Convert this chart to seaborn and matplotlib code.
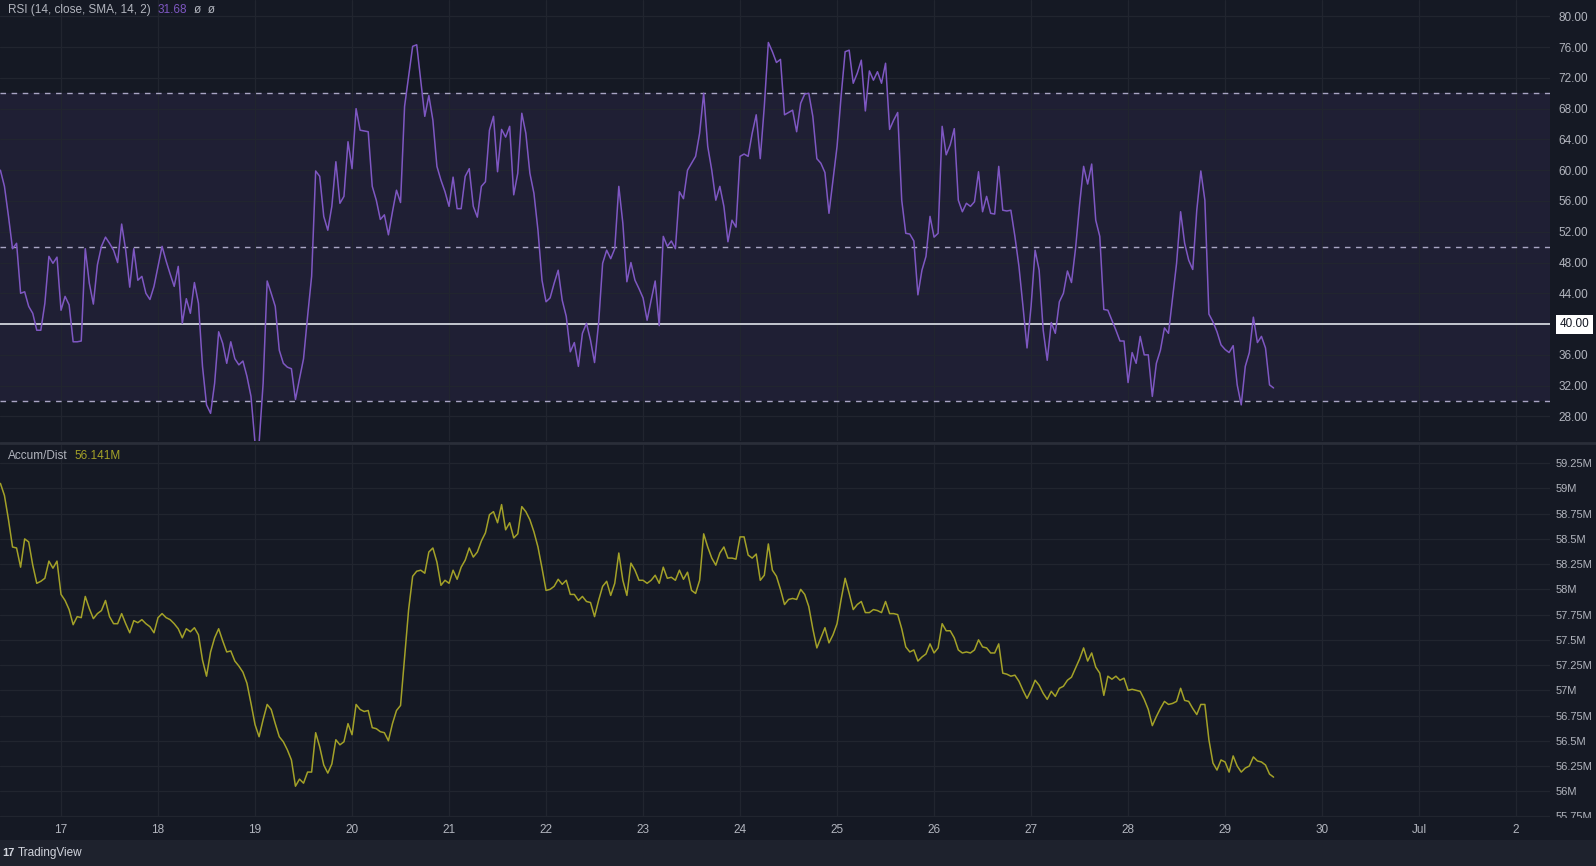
import pandas as pd
import matplotlib
matplotlib.use('Agg')
import matplotlib.pyplot as plt
import matplotlib.dates as mdates
from matplotlib.lines import Line2D
from matplotlib.patches import Rectangle
from matplotlib.transforms import Bbox, TransformedBbox
import seaborn as sns

# hourly RSI(14) readings, 16 Jun 09:00 -> 29 Jun 12:00
rsi = [60.0, 57.9, 54.0, 49.8, 50.5, 44.0, 44.2, 42.3, 41.4, 39.2, 39.2, 42.7,
       48.8, 47.9, 48.7, 41.8, 43.6, 42.5, 37.7, 37.7, 37.8, 49.8,
       45.3, 42.6, 47.7, 50.1, 51.3, 50.5, 49.6, 48.0, 53.0, 49.6,
       44.8, 49.8, 45.7, 46.2, 44.0, 43.2, 44.9, 47.5, 50.1, 48.2,
       46.5, 44.9, 47.5, 40.1, 43.3, 41.4, 45.4, 42.7, 34.5, 29.5,
       28.4, 32.3, 39.0, 37.5, 34.9, 37.7, 35.5, 34.7, 35.2, 33.2,
       30.6, 24.5, 24.5, 32.3, 45.6, 44.0, 42.3, 36.6, 34.9, 34.4,
       34.2, 30.2, 32.9, 35.5, 41.0, 46.2, 59.9, 59.2, 54.0, 52.2,
       55.3, 61.1, 55.7, 56.6, 63.7, 60.2, 68.0, 65.2, 65.1, 65.0,
       57.9, 56.1, 53.6, 54.2, 51.6, 54.6, 57.4, 55.8, 68.3, 72.2,
       76.1, 76.3, 71.7, 67.0, 69.7, 66.5, 60.5, 58.7, 57.2, 55.3,
       59.1, 55.0, 55.0, 59.2, 60.2, 55.3, 53.9, 57.9, 58.5, 65.2,
       67.0, 59.8, 65.3, 64.3, 65.7, 56.8, 59.6, 67.4, 64.8, 59.6,
       57.0, 52.2, 45.7, 42.9, 43.4, 45.3, 47.0, 43.1, 41.0, 36.4,
       37.6, 34.5, 38.8, 40.1, 37.9, 35.0, 40.1, 47.9, 49.6, 48.5,
       49.8, 57.9, 53.1, 45.5, 48.0, 45.7, 44.6, 43.4, 40.5, 43.1,
       45.6, 39.8, 51.4, 50.1, 50.8, 49.8, 57.2, 56.3, 60.0, 60.9,
       61.8, 64.8, 70.0, 63.1, 60.0, 56.1, 57.9, 55.3, 50.7, 53.5,
       52.6, 61.8, 62.1, 61.8, 64.8, 67.2, 61.5, 68.3, 76.6, 75.4,
       74.0, 74.4, 67.2, 67.5, 67.8, 65.0, 68.7, 69.9, 70.0, 67.0,
       61.5, 60.9, 59.7, 54.4, 58.7, 63.1, 69.6, 75.4, 75.6, 71.3,
       72.6, 74.3, 67.7, 72.9, 71.7, 72.8, 71.3, 73.9, 65.3, 66.5,
       67.5, 56.1, 51.8, 51.7, 50.8, 43.8, 47.0, 48.8, 54.0, 51.3,
       51.8, 65.7, 62.0, 63.3, 65.4, 56.1, 54.6, 55.7, 55.3, 55.9,
       59.8, 54.6, 56.6, 54.4, 54.3, 60.5, 54.8, 54.7, 54.8, 51.4,
       47.5, 42.3, 36.9, 42.3, 49.6, 47.0, 39.2, 35.3, 40.2, 38.8,
       42.9, 44.0, 46.9, 45.4, 49.8, 55.5, 60.5, 58.2, 60.8, 53.5,
       51.4, 41.9, 41.8, 40.5, 39.2, 37.8, 37.8, 32.4, 36.3, 34.9,
       38.4, 36.0, 36.0, 30.6, 34.9, 36.6, 39.5, 38.8, 43.3, 47.9,
       54.6, 50.5, 48.3, 47.1, 54.8, 59.9, 56.1, 41.3, 40.3, 39.0,
       37.3, 36.7, 36.3, 37.2, 32.1, 29.5, 34.5, 36.3, 40.9, 37.6,
       38.4, 36.9, 32.1, 31.7]

# hourly accumulation / distribution, millions
accum_dist = [59.05, 58.93, 58.69, 58.42, 58.41, 58.22, 58.50, 58.47, 58.24, 58.06, 58.08, 58.11,
              58.28, 58.21, 58.28, 57.95, 57.89, 57.80, 57.65, 57.73, 57.72, 57.93,
              57.81, 57.71, 57.76, 57.79, 57.89, 57.73, 57.66, 57.66, 57.76, 57.66,
              57.57, 57.69, 57.67, 57.70, 57.66, 57.63, 57.57, 57.72, 57.76, 57.72,
              57.70, 57.66, 57.61, 57.52, 57.61, 57.58, 57.62, 57.55, 57.30, 57.14,
              57.38, 57.52, 57.61, 57.49, 57.38, 57.39, 57.29, 57.24, 57.18, 57.07,
              56.87, 56.66, 56.54, 56.71, 56.86, 56.81, 56.67, 56.54, 56.49, 56.41,
              56.31, 56.05, 56.12, 56.08, 56.19, 56.19, 56.58, 56.44, 56.26, 56.18,
              56.27, 56.51, 56.46, 56.49, 56.67, 56.56, 56.86, 56.81, 56.79, 56.80,
              56.63, 56.62, 56.59, 56.58, 56.50, 56.67, 56.80, 56.85, 57.33, 57.80,
              58.13, 58.18, 58.19, 58.16, 58.37, 58.41, 58.27, 58.04, 58.09, 58.06,
              58.19, 58.10, 58.22, 58.29, 58.41, 58.32, 58.37, 58.48, 58.56, 58.74,
              58.77, 58.66, 58.84, 58.59, 58.66, 58.51, 58.55, 58.82, 58.77, 58.69,
              58.57, 58.42, 58.21, 57.99, 58.00, 58.03, 58.10, 58.05, 58.09, 57.95,
              57.95, 57.89, 57.93, 57.88, 57.87, 57.73, 57.89, 58.03, 58.08, 57.94,
              58.06, 58.36, 58.09, 57.94, 58.26, 58.19, 58.09, 58.09, 58.06, 58.09,
              58.14, 58.06, 58.22, 58.11, 58.12, 58.09, 58.19, 58.10, 58.17, 57.99,
              57.96, 58.09, 58.55, 58.42, 58.31, 58.24, 58.36, 58.42, 58.31, 58.31,
              58.30, 58.52, 58.52, 58.34, 58.31, 58.35, 58.09, 58.14, 58.45, 58.19,
              58.13, 58.00, 57.85, 57.90, 57.91, 57.90, 58.00, 57.95, 57.83, 57.61,
              57.42, 57.52, 57.62, 57.47, 57.55, 57.66, 57.90, 58.11, 57.96, 57.80,
              57.85, 57.88, 57.77, 57.77, 57.80, 57.79, 57.77, 57.88, 57.76, 57.76,
              57.75, 57.61, 57.43, 57.38, 57.40, 57.29, 57.33, 57.36, 57.46, 57.37,
              57.42, 57.66, 57.59, 57.59, 57.52, 57.40, 57.37, 57.38, 57.37, 57.40,
              57.50, 57.43, 57.42, 57.37, 57.37, 57.46, 57.17, 57.16, 57.14, 57.15,
              57.09, 57.00, 56.92, 57.00, 57.10, 57.05, 56.97, 56.91, 56.99, 56.94,
              57.02, 57.04, 57.10, 57.13, 57.22, 57.31, 57.42, 57.29, 57.37, 57.23,
              57.17, 56.95, 57.14, 57.11, 57.14, 57.10, 57.12, 57.00, 57.01, 57.00,
              56.99, 56.91, 56.81, 56.65, 56.74, 56.82, 56.89, 56.86, 56.87, 56.89,
              57.02, 56.90, 56.89, 56.82, 56.76, 56.86, 56.86, 56.51, 56.28, 56.21,
              56.31, 56.29, 56.19, 56.35, 56.25, 56.19, 56.23, 56.25, 56.34, 56.30,
              56.29, 56.26, 56.17, 56.14]

first_bar = '2022-06-16 09:00'
rsi_ticks = [28, 32, 36, 44, 48, 52, 56, 60, 64, 68, 72, 76, 80]
rsi_levels = [70, 50, 30]
rsi_line = 40
ad_ticks = [56.0, 56.25, 56.5, 56.75, 57.0, 57.25, 57.5, 57.75, 58.0, 58.25,
            58.5, 58.75, 59.0, 59.25, 55.75]
rsi_title = 'RSI (14, close, SMA, 14, 2)'
rsi_value = '31.68'
ad_title = 'Accum/Dist'
ad_value = '56.141M'

BG = '#151924'
GRID = '#21252f'
TXT = '#b2b5be'
RSI_C = '#7e57c2'
AD_C = '#a3a128'

sns.set_theme(style='dark')
plt.rcParams['font.family'] = ['Liberation Sans', 'DejaVu Sans']

times = pd.date_range(first_bar, periods=len(rsi), freq='h')
df = pd.DataFrame({'time': times, 'rsi': rsi, 'ad': accum_dist})

fig = plt.figure(figsize=(15.96, 8.66), dpi=100, facecolor=BG)
ax1 = fig.add_axes([0, 0.4908, 0.9712, 0.5092])
ax2 = fig.add_axes([0, 0.0566, 0.9712, 0.4295], sharex=ax1)

# --- RSI pane
ax1.axhspan(30, 70, color=RSI_C, alpha=0.1, lw=0, zorder=0)
sns.lineplot(data=df, x='time', y='rsi', ax=ax1, color=RSI_C, linewidth=1.1, zorder=3)
for lvl in rsi_levels:
    ax1.axhline(lvl, color='#a9a5c4', lw=1, dashes=(4, 4), zorder=2)
ax1.axhline(rsi_line, color='#d1d4dc', lw=1.3, zorder=2)
ax1.set_ylim(24.81, 82.12)
ax1.set_yticks(rsi_ticks)
ax1.yaxis.set_major_formatter(lambda v, p: f'{v:.2f}')
ax1.annotate(f'{rsi_line:.2f}', xy=(1, rsi_line), xycoords=('axes fraction', 'data'),
             xytext=(7, 0), textcoords='offset points', ha='left', va='center',
             fontsize=8.5, color='#131722', annotation_clip=False,
             bbox=dict(boxstyle='square,pad=0.3', fc='#ffffff', ec='none'))

t1 = ax1.text(0.005, 0.991, rsi_title, transform=ax1.transAxes, ha='left', va='top',
              fontsize=8.5, color=TXT)
t2 = ax1.annotate(rsi_value, xy=(1, 0), xycoords=t1, xytext=(5, 0),
                  textcoords='offset points', va='bottom', fontsize=8.5, color=RSI_C)
ax1.annotate('\u00f8  \u00f8', xy=(1, 0), xycoords=t2, xytext=(5, 0),
             textcoords='offset points', va='bottom', fontsize=8.5, color=TXT)

# --- Accumulation / distribution pane
sns.lineplot(data=df, x='time', y='ad', ax=ax2, color=AD_C, linewidth=1.1, zorder=3)
ax2.set_ylim(55.745, 59.43)
ax2.set_yticks(ad_ticks)
ax2.yaxis.set_major_formatter(lambda v, p: f'{v:g}M')
t3 = ax2.text(0.005, 0.986, ad_title, transform=ax2.transAxes, ha='left', va='top',
              fontsize=8.5, color=TXT)
ax2.annotate(ad_value, xy=(1, 0), xycoords=t3, xytext=(5, 0),
             textcoords='offset points', va='bottom', fontsize=8.5, color=AD_C)

# --- shared styling
ax1.set_xlim(pd.Timestamp('2022-06-16 08:54'), pd.Timestamp('2022-07-02 08:24'))
ax2.xaxis.set_major_locator(mdates.DayLocator())
ax2.xaxis.set_major_formatter(
    lambda x, p: mdates.num2date(x).strftime('%b') if mdates.num2date(x).day == 1
    else str(mdates.num2date(x).day))
for ax in (ax1, ax2):
    ax.set_facecolor(BG)
    ax.set_xlabel('')
    ax.set_ylabel('')
    for s in ax.spines.values():
        s.set_visible(False)
    ax.grid(True, color=GRID, lw=0.9)
    ax.yaxis.tick_right()
    ax.tick_params(axis='x', length=0, pad=5, labelsize=8.5, labelcolor=TXT)
ax1.tick_params(axis='y', length=0, pad=6, labelsize=8.5, labelcolor=TXT)
ax2.tick_params(axis='y', length=0, pad=4, labelsize=8, labelcolor=TXT)
plt.setp(ax1.get_xticklabels(), visible=False)

# pane separator and footer
fig.add_artist(Line2D([0, 1], [0.4885, 0.4885], transform=fig.transFigure,
                      color='#2a2e39', lw=2))
fig.add_artist(Rectangle((0, 0), 1, 26 / 866, transform=fig.transFigure,
                         facecolor='#1e222d', edgecolor='none'))
fig.text(0.0012, 0.0150, '17', fontsize=8, weight='bold', color='#d1d4dc', va='center')
fig.text(0.0110, 0.0150, 'TradingView', fontsize=8.5, color='#d1d4dc', va='center')

# cut the lowest price label at the time scale, like the original
fig.canvas.draw()
clip = TransformedBbox(Bbox([[0.9, 0.0554], [1.0, 0.49]]), fig.transFigure)
for tick in ax2.yaxis.get_major_ticks():
    tick.label2.set_clip_box(clip)
    tick.label2.set_clip_on(True)

fig.savefig('out.png', dpi=100, facecolor=BG)
